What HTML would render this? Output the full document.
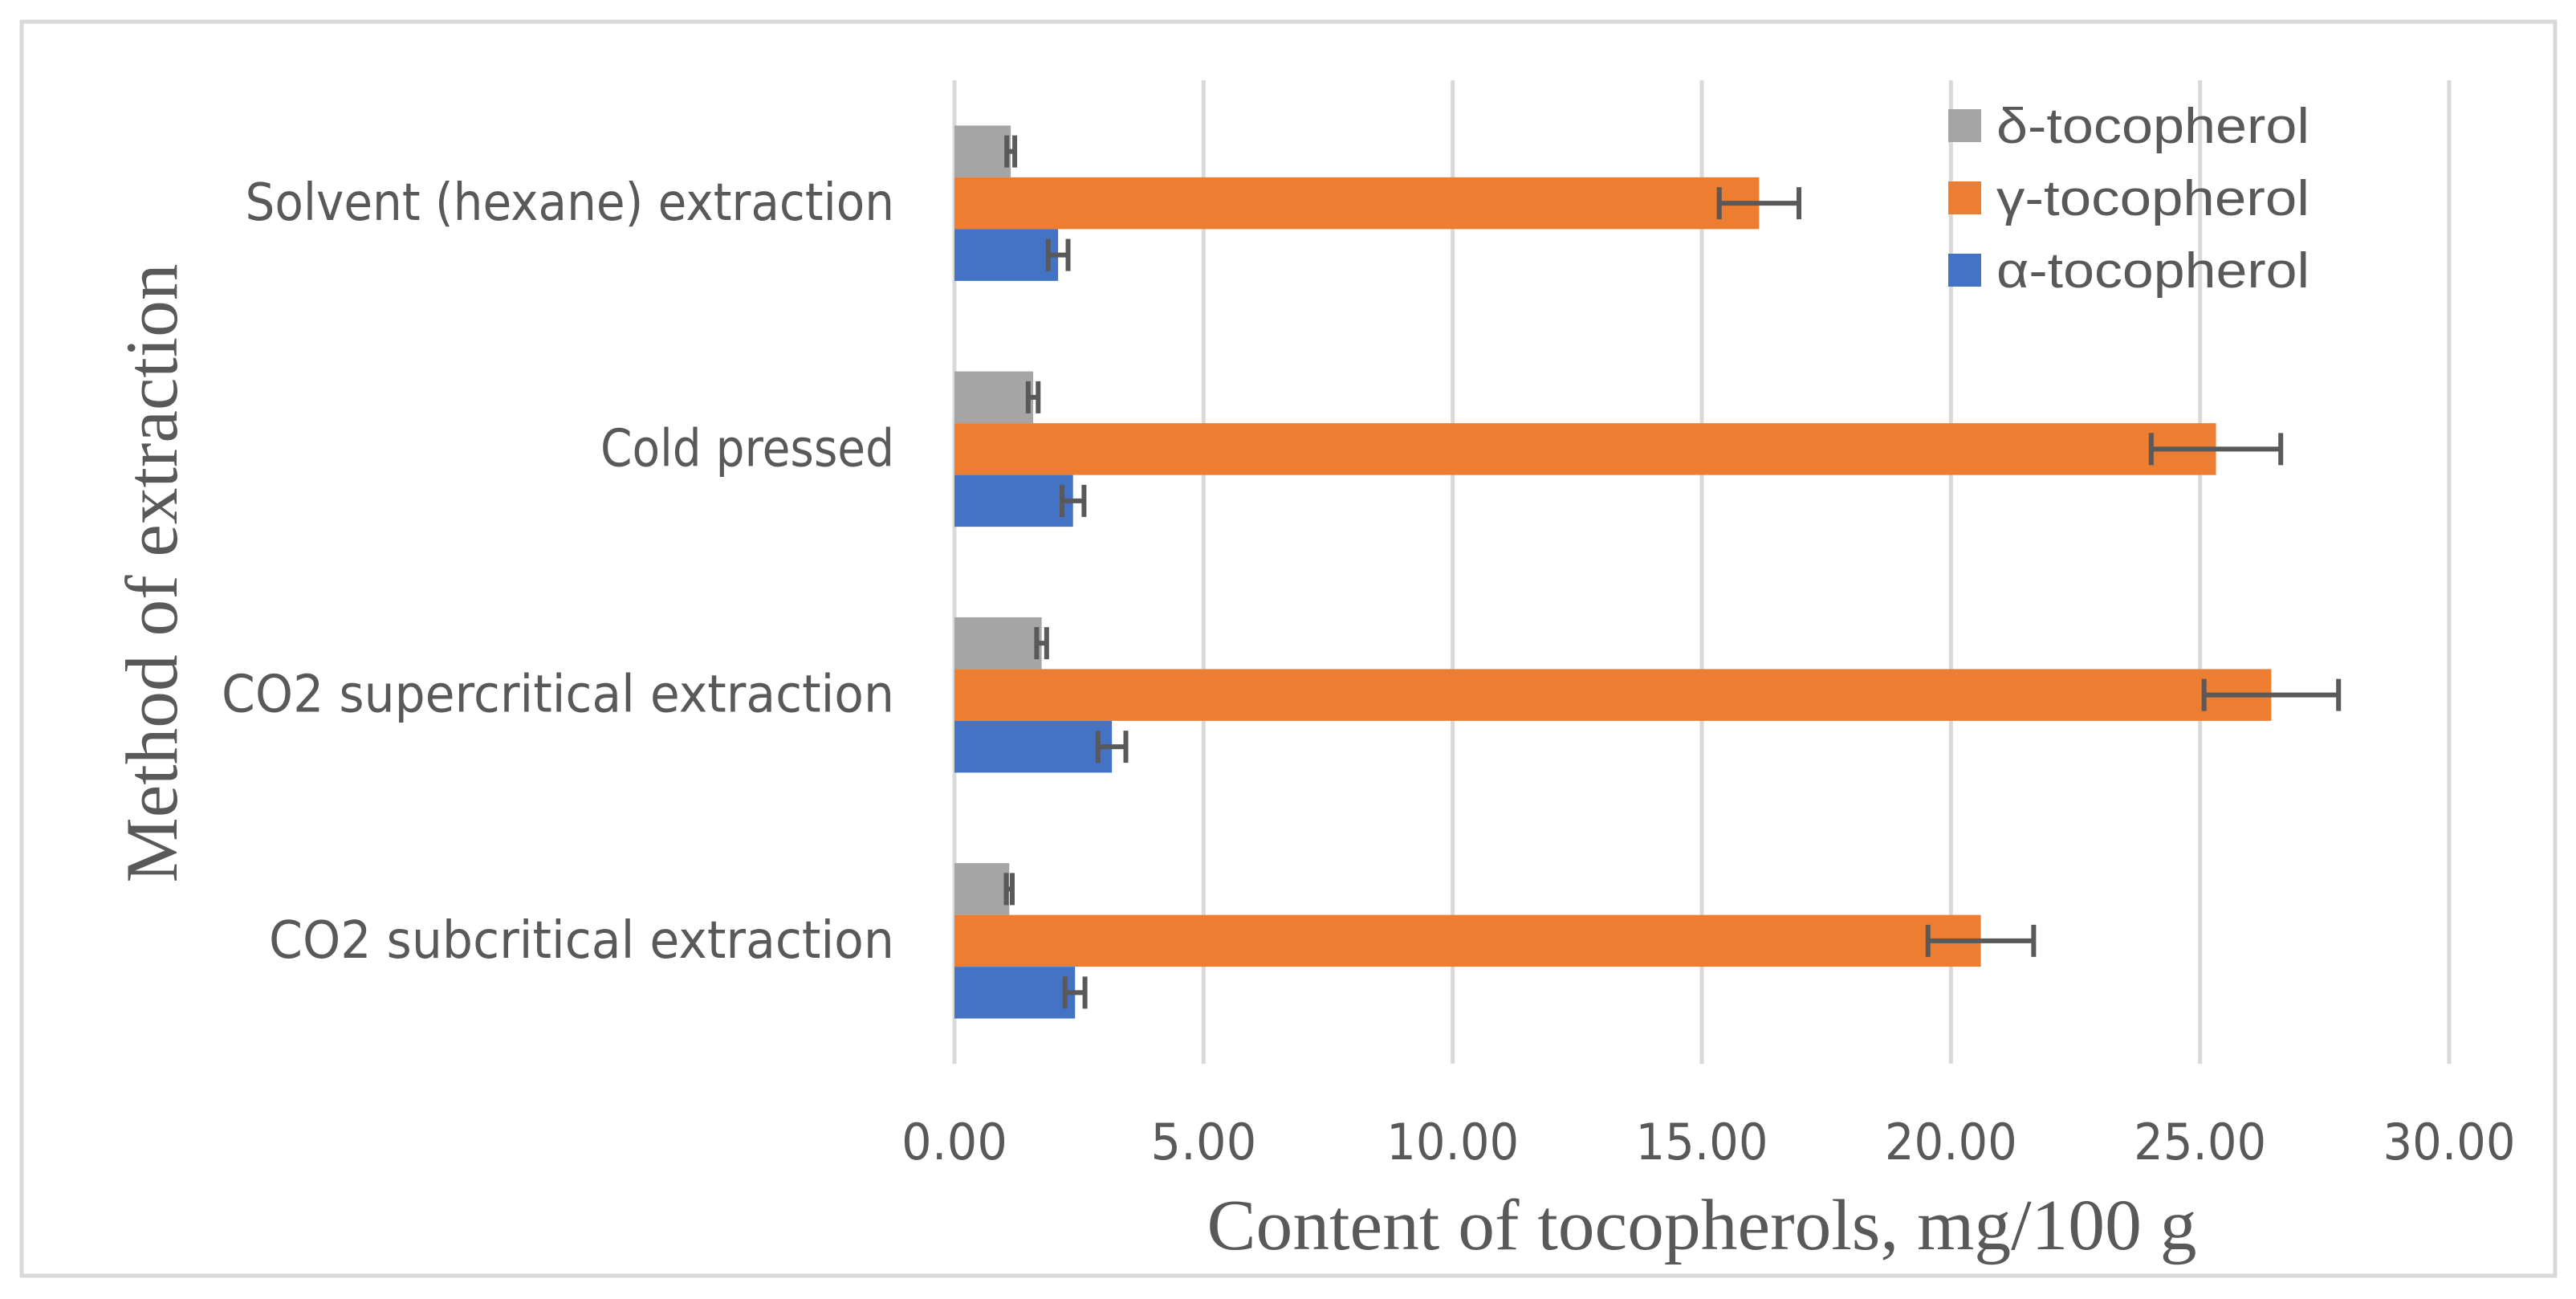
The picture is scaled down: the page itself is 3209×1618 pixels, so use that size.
<!DOCTYPE html>
<html><head><meta charset="utf-8"><style>
html,body{margin:0;padding:0;background:#fff}
svg{display:block}
</style></head><body>
<svg id="chart" width="3209" height="1618" viewBox="0 0 3209 1618" xmlns="http://www.w3.org/2000/svg">
<rect x="27" y="27" width="3156" height="1562" fill="#fff" stroke="#d9d9d9" stroke-width="5"/>
<g id="grid"></g>
<g id="bars"></g>
<g id="errs"></g>
<g id="labels" font-family="'DejaVu Sans','Liberation Sans',sans-serif" fill="#595959"></g>
<text transform="translate(220,714) rotate(-90)" text-anchor="middle" font-family="'Liberation Serif',serif" font-size="92" fill="#595959" textLength="771" lengthAdjust="spacingAndGlyphs">Method of extraction</text>
<text x="2120" y="1556" text-anchor="middle" font-family="'Liberation Serif',serif" font-size="90" fill="#595959" textLength="1233" lengthAdjust="spacingAndGlyphs">Content of tocopherols, mg/100 g</text>
<g id="legend" font-family="'Liberation Sans',sans-serif" fill="#595959"></g>
</svg>
<script>
const categories = ["Solvent (hexane) extraction","Cold pressed","CO2 supercritical extraction","CO2 subcritical extraction"];
const deltaVals = [1.13, 1.58, 1.75, 1.10];
const deltaErr = [0.08, 0.1, 0.1, 0.06];
const gammaVals = [16.15, 25.32, 26.43, 20.6];
const gammaErr = [0.8, 1.3, 1.35, 1.06];
const alphaVals = [2.08, 2.38, 3.16, 2.42];
const alphaErr = [0.2, 0.22, 0.28, 0.2];
const xTicks = [0,5,10,15,20,25,30];
const xTickLabels = ["0.00","5.00","10.00","15.00","20.00","25.00","30.00"];
const seriesNames = ["δ-tocopherol","γ-tocopherol","α-tocopherol"];

const NS="http://www.w3.org/2000/svg";
const X0=1189, X1=3051, XMAX=30, TOP=100, BOT=1325;
const xs=v=>X0+(v/XMAX)*(X1-X0);
const band=(BOT-TOP)/categories.length;
const BH=64.5;
const colors=["#a5a5a5","#ed7d31","#4472c4"];
const series=[deltaVals,gammaVals,alphaVals];
const errs=[deltaErr,gammaErr,alphaErr];
const barNames=["bar-delta","bar-gamma","bar-alpha"];
function mk(t,a,p){const e=document.createElementNS(NS,t);for(const k in a)e.setAttribute(k,a[k]);p.appendChild(e);return e;}
const grid=document.getElementById('grid'),bars=document.getElementById('bars'),eg=document.getElementById('errs'),lab=document.getElementById('labels'),leg=document.getElementById('legend');
xTicks.forEach((t,i)=>{
  const l=mk('line',{x1:xs(t),x2:xs(t),y1:TOP,y2:BOT,stroke:'#d9d9d9','stroke-width':5},grid);
  
  
  const tx=mk('text',{x:xs(t),y:1444,'text-anchor':'middle','font-size':62},lab);
  
  
  tx.setAttribute('textLength', xTickLabels[i].length*33);
  tx.setAttribute('lengthAdjust','spacingAndGlyphs');
  tx.textContent=xTickLabels[i];
});
categories.forEach((c,ci)=>{
  const center=TOP+band*ci+band/2;
  const tx=mk('text',{x:1114,y:center+21,'text-anchor':'end','font-size':64},lab);
  
  
  tx.setAttribute('textLength', c.length*29.5+12);
  tx.setAttribute('lengthAdjust','spacingAndGlyphs');
  tx.textContent=c;
  series.forEach((s,si)=>{
    const y=center-1.5*BH+si*BH;
    const r=mk('rect',{x:X0,y:y,width:xs(s[ci])-X0,height:BH,fill:colors[si]},bars);
    
    
    const cy=y+BH/2, lo=xs(s[ci]-errs[si][ci]), hi=xs(s[ci]+errs[si][ci]), h=20;
    const g=mk('path',{d:`M${lo},${cy}H${hi}M${lo},${cy-h}V${cy+h}M${hi},${cy-h}V${cy+h}`,stroke:'#595959','stroke-width':6,fill:'none'},eg);
    
    
  });
});
seriesNames.forEach((n,i)=>{
  const cy=156+i*90;
  const r=mk('rect',{x:2427,y:cy-20,width:41,height:41,fill:colors[i]},leg);
  
  
  const t=mk('text',{x:2487,y:cy+22,'font-size':62,textLength:390,lengthAdjust:'spacingAndGlyphs'},leg);
  
  
  t.textContent=n;
});
</script>
</body></html>
